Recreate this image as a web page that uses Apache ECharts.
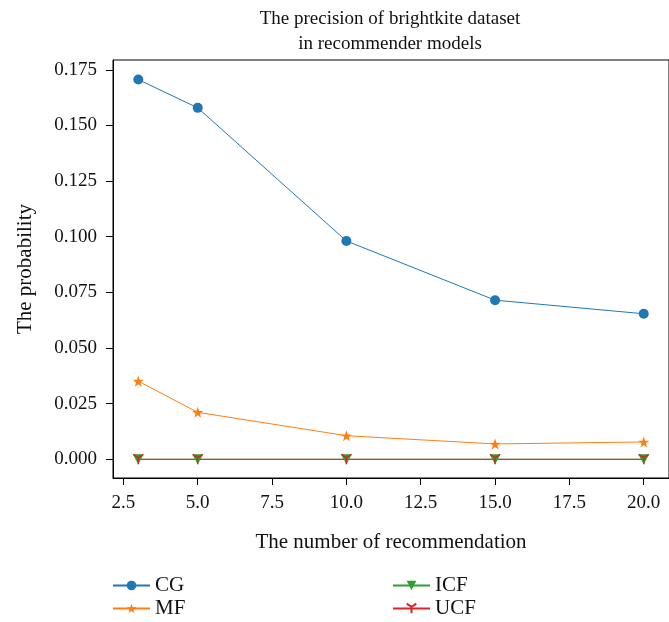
<!DOCTYPE html>
<html>
<head>
<meta charset="utf-8">
<script src="https://cdn.jsdelivr.net/npm/echarts@6/dist/echarts.min.js"></script>
<style>
  html, body { margin: 0; padding: 0; background: #fff; }
  #chart { width: 669px; height: 622px; }
</style>
</head>
<body>
<div id="chart"></div>
<script>
// Number of recommendations (x values)
const recommendCounts = [3, 5, 10, 15, 20];

// Precision per model
const cgValues  = [0.1706, 0.1579, 0.0981, 0.0715, 0.0654];
const mfValues  = [0.0351, 0.0211, 0.0106, 0.0069, 0.0078];
const icfValues = [0, 0, 0, 0, 0];
const ucfValues = [0, 0, 0, 0, 0];

// Axis tick positions
const xTicks = [2.5, 5.0, 7.5, 10.0, 12.5, 15.0, 17.5, 20.0];
const yTicks = [0, 0.025, 0.05, 0.075, 0.1, 0.125, 0.15, 0.175];

const FONT = '"Liberation Serif", "DejaVu Serif", serif';

const pairs = vals => recommendCounts.map((x, i) => [x, vals[i]]);

const chart = echarts.init(document.getElementById('chart'), null, { renderer: 'canvas' });

const tickStyle = { show: true, length: 7, inside: false, lineStyle: { color: '#000', width: 1 } };

const legendCommon = {
  orient: 'vertical', top: 575, itemGap: 2, padding: 0,
  itemWidth: 37, itemHeight: 12,
  textStyle: { fontFamily: FONT, fontSize: 21, color: '#111' }
};

chart.setOption({
  animation: false,
  backgroundColor: '#fff',
  textStyle: { fontFamily: FONT },
  title: {
    text: 'The precision of brightkite dataset\nin recommender models',
    left: 385,
    textAlign: 'center',
    top: 2,
    textStyle: { fontFamily: FONT, fontSize: 19, fontWeight: 'normal', color: '#111', lineHeight: 25 }
  },
  grid: {
    left: 113, top: 60, width: 560, height: 418,
    show: true, borderColor: '#000', borderWidth: 1, backgroundColor: 'transparent'
  },
  legend: [
    Object.assign({ left: 112, data: ['CG', 'MF'] }, legendCommon),
    Object.assign({ left: 392, data: ['ICF', 'UCF'] }, legendCommon)
  ],
  xAxis: {
    type: 'value',
    min: 2.15, max: 20.85,
    name: 'The number of recommendation',
    nameLocation: 'middle',
    nameGap: 54,
    nameTextStyle: { fontFamily: FONT, fontSize: 21, color: '#111' },
    axisLine: { show: true, onZero: false, lineStyle: { color: '#000', width: 1 } },
    axisTick: Object.assign({ customValues: xTicks }, tickStyle),
    axisLabel: {
      customValues: xTicks,
      formatter: v => v.toFixed(1),
      fontFamily: FONT, fontSize: 19, color: '#111', margin: 16
    },
    splitLine: { show: false }
  },
  yAxis: {
    type: 'value',
    min: -0.0084, max: 0.1794,
    name: 'The probability',
    nameLocation: 'middle',
    nameGap: 77,
    nameTextStyle: { fontFamily: FONT, fontSize: 21, color: '#111' },
    axisLine: { show: true, onZero: false, lineStyle: { color: '#000', width: 1 } },
    axisTick: Object.assign({ customValues: yTicks }, tickStyle),
    axisLabel: {
      customValues: yTicks,
      formatter: v => v.toFixed(3),
      fontFamily: FONT, fontSize: 19, color: '#111', margin: 16
    },
    splitLine: { show: false }
  },
  series: [
    {
      name: 'CG', type: 'line', data: pairs(cgValues),
      symbol: 'circle', symbolSize: 10,
      lineStyle: { color: '#1f77b4', width: 1 },
      itemStyle: { color: '#1f77b4' }
    },
    {
      name: 'MF', type: 'line', data: pairs(mfValues),
      symbol: 'path://M50,0 L61.8,34.5 L97.6,34.5 L68.8,56 L79.4,90.5 L50,69.5 L20.6,90.5 L31.2,56 L2.4,34.5 L38.2,34.5 Z',
      symbolSize: 11,
      lineStyle: { color: '#ff7f0e', width: 1 },
      itemStyle: { color: '#ff7f0e' }
    },
    {
      name: 'ICF', type: 'line', data: pairs(icfValues),
      symbol: 'path://M0,0 L10,0 L5,9 Z', symbolSize: [11, 10],
      lineStyle: { color: '#2ca02c', width: 1 },
      itemStyle: { color: '#2ca02c' }
    },
    {
      name: 'UCF', type: 'line', data: pairs(ucfValues),
      symbol: 'path://M5,5 L5,10 M5,5 L0.67,2.5 M5,5 L9.33,2.5',
      symbolSize: 10,
      lineStyle: { color: '#d62728', width: 1 },
      itemStyle: { color: '#d62728', borderColor: '#d62728', borderWidth: 1.5 }
    }
  ]
});
</script>
</body>
</html>
